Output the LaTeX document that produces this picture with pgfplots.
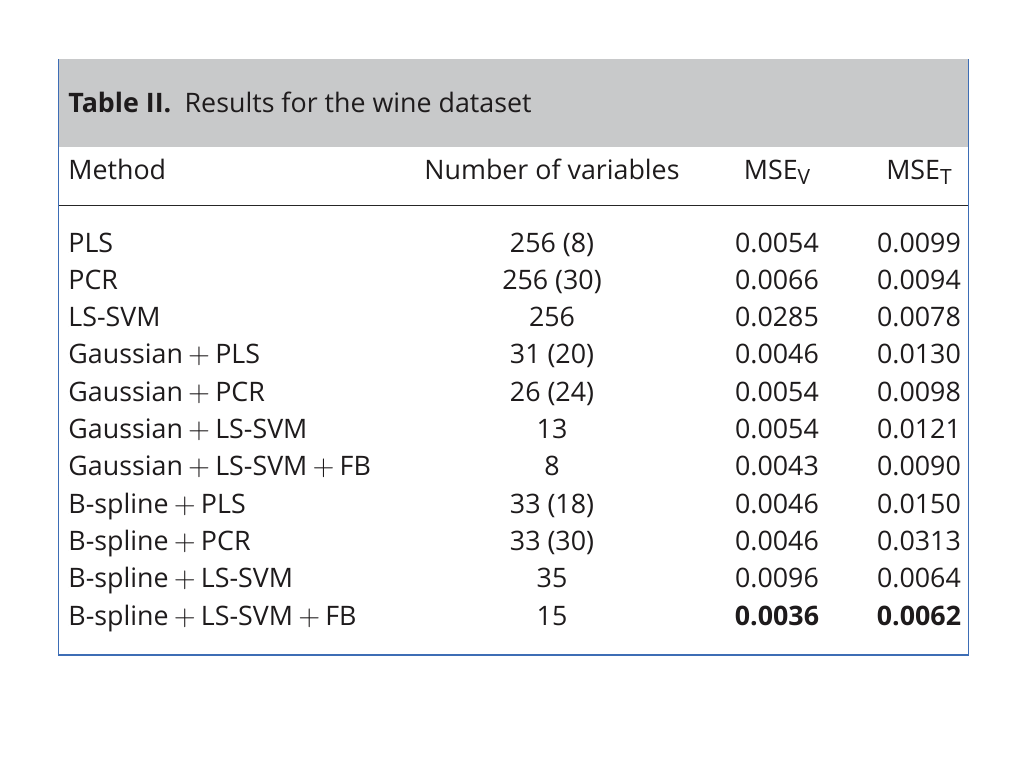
\documentclass[border=0pt]{standalone}
\usepackage{pgfplots}
\pgfplotsset{compat=1.18}
\usepackage{pgfplotstable}
\usepackage{fontspec}
\setmainfont{Open Sans}
\definecolor{txt}{HTML}{1E1B1C}
\definecolor{bandgray}{HTML}{C8C9CA}
\definecolor{boxblue}{HTML}{3D6DB5}
\newcommand{\tfont}{\fontsize{13.4}{16}\selectfont}
\newcommand{\subf}{\fontsize{10.5}{10}\selectfont}
\newcommand{\pl}{\hspace{2.6pt}$+$\hspace{2.6pt}}
\pgfplotstableread[col sep=comma]{
y,method,nvars,msev,mset
252.0,PLS,256 (8),0.0054,0.0099
289.3,PCR,256 (30),0.0066,0.0094
326.6,LS-SVM,256,0.0285,0.0078
363.9,Gaussian\pl PLS,31 (20),0.0046,0.0130
401.2,Gaussian\pl PCR,26 (24),0.0054,0.0098
438.5,Gaussian\pl LS-SVM,13,0.0054,0.0121
475.8,Gaussian\pl LS-SVM\pl FB,8,0.0043,0.0090
513.1,B-spline\pl PLS,33 (18),0.0046,0.0150
550.4,B-spline\pl PCR,33 (30),0.0046,0.0313
587.7,B-spline\pl LS-SVM,35,0.0096,0.0064
625.0,B-spline\pl LS-SVM\pl FB,15,\textbf{0.0036},\textbf{0.0062}
}\rows
\begin{document}
\begin{tikzpicture}
\begin{axis}[
  x=0.5pt, y=0.5pt, y dir=reverse,
  xmin=0, xmax=1024, ymin=0, ymax=768,
  hide axis, clip=false,
  only marks, mark=*, mark size=0pt, mark options={draw=none, fill=none},
  nodes near coords, point meta=explicit symbolic,
  every node near coord/.append style={inner sep=0pt, text=txt, font=\tfont},
]
\fill[white] (axis cs:0,0) rectangle (axis cs:1024,768);
\fill[bandgray] (axis cs:58.3,59.3) rectangle (axis cs:968.3,146.7);
\draw[black!85, line width=0.6pt] (axis cs:58.3,205.7) -- (axis cs:968.3,205.7);
\draw[boxblue, line width=0.7pt] (axis cs:58.3,59.3) -- (axis cs:58.3,655) -- (axis cs:968.3,655) -- (axis cs:968.3,59.3);
\node[anchor=base west, inner sep=0pt, text=txt, font=\tfont] at (axis cs:68,112) {\textbf{Table II.}\enspace Results for the wine dataset};
\node[anchor=base west, inner sep=0pt, text=txt, font=\tfont] at (axis cs:68,179) {Method};
\node[anchor=base, inner sep=0pt, text=txt, font=\tfont] at (axis cs:552,179) {Number of variables};
\node[anchor=base, inner sep=0pt, text=txt, font=\tfont] at (axis cs:777,179) {MSE\raisebox{-0.2em}{\subf V}};
\node[anchor=base, inner sep=0pt, text=txt, font=\tfont] at (axis cs:919,179) {MSE\raisebox{-0.2em}{\subf T}};
\addplot[every node near coord/.append style={anchor=base west}] table[x expr=68, y=y, meta=method] {\rows};
\addplot[every node near coord/.append style={anchor=base}] table[x expr=552, y=y, meta=nvars] {\rows};
\addplot[every node near coord/.append style={anchor=base}] table[x expr=777, y=y, meta=msev] {\rows};
\addplot[every node near coord/.append style={anchor=base}] table[x expr=919, y=y, meta=mset] {\rows};
\end{axis}
\end{tikzpicture}
\end{document}
